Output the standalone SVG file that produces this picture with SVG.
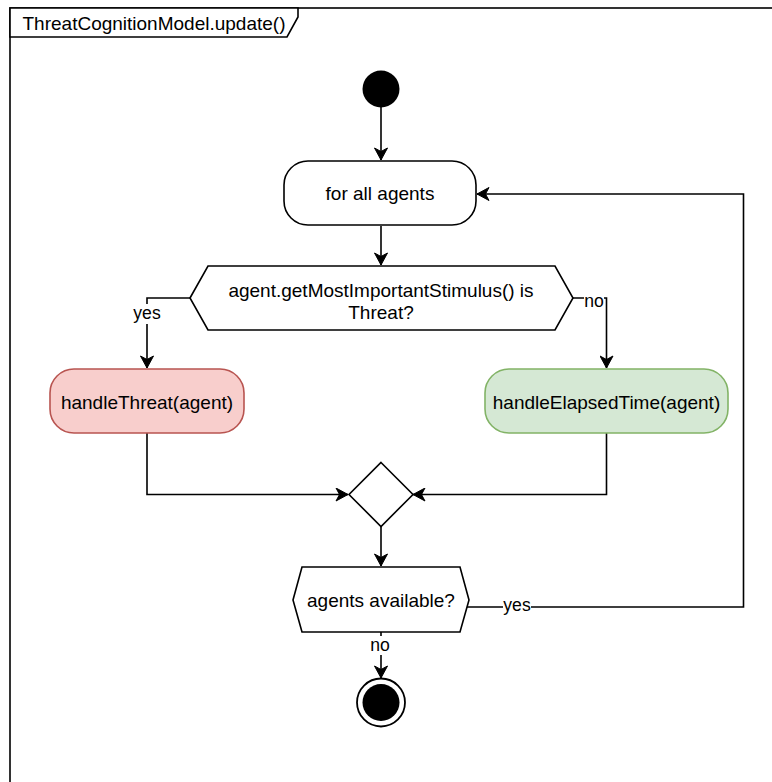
<svg xmlns="http://www.w3.org/2000/svg" width="772" height="782" viewBox="0 0 772 782">
  <style>
    .ln { fill: none; stroke: #000; stroke-width: 1.6; }
    .shape { fill: #fff; stroke: #000; stroke-width: 1.6; }
    .txt { font-family: "Liberation Sans", Arial, sans-serif; font-size: 19px; fill: #000; text-anchor: middle; }
    .lbl { font-family: "Liberation Sans", Arial, sans-serif; font-size: 17.6px; fill: #000; text-anchor: middle; }
    .lblbg { fill: #fff; stroke: none; }
  </style>
  <defs>
    <marker id="arrow" markerUnits="userSpaceOnUse" viewBox="-13 -7 14 14" refX="0" refY="0" markerWidth="14" markerHeight="14" orient="auto">
      <path d="M0,0 L-12,-6.5 L-8.5,0 L-12,6.5 Z" fill="#000" stroke="#000" stroke-width="1"/>
    </marker>
  </defs>

  <rect width="772" height="782" fill="#fff"/>

  <!-- UML frame with title tab -->
  <g id="frame">
    <rect x="10" y="8" width="800" height="800" class="ln"/>
    <path d="M10,8 H298 V17 L287,37 H10 Z" class="shape"/>
    <text x="154" y="30" class="txt">ThreatCognitionModel.update()</text>
  </g>

  <!-- connectors -->
  <g id="connectors">
    <path d="M381,107 V160" class="ln" marker-end="url(#arrow)"/>
    <path d="M381,226 V265" class="ln" marker-end="url(#arrow)"/>
    <path d="M190,298 H147 V368" class="ln" marker-end="url(#arrow)"/>
    <path d="M573,298 H606.5 V368" class="ln" marker-end="url(#arrow)"/>
    <path d="M147,433 V494.5 H348" class="ln" marker-end="url(#arrow)"/>
    <path d="M606.5,433 V494.5 H413" class="ln" marker-end="url(#arrow)"/>
    <path d="M381,527 V566" class="ln" marker-end="url(#arrow)"/>
    <path d="M467,607 H743.5 V194 H477" class="ln" marker-end="url(#arrow)"/>
    <path d="M381,632 V678" class="ln" marker-end="url(#arrow)"/>
    <!-- edge labels -->
    <rect x="133" y="304" width="28" height="20" class="lblbg"/>
    <text x="147" y="319" class="lbl">yes</text>
    <rect x="584" y="292" width="20" height="18" class="lblbg"/>
    <text x="594" y="307" class="lbl">no</text>
    <rect x="503" y="598" width="28" height="18" class="lblbg"/>
    <text x="517" y="611" class="lbl">yes</text>
    <rect x="370" y="636" width="20" height="19" class="lblbg"/>
    <text x="380" y="651" class="lbl">no</text>
  </g>

  <g id="start">
    <circle cx="381" cy="89" r="18.5" fill="#000"/>
  </g>

  <g id="forAllAgents">
    <rect x="284" y="161" width="192" height="64" rx="24" ry="24" class="shape"/>
    <text x="380" y="200" class="txt">for all agents</text>
  </g>

  <g id="isThreat">
    <polygon points="190,298 208,266 555,266 573,298 555,330 208,330" class="shape"/>
    <text x="381" y="297" class="txt">agent.getMostImportantStimulus() is</text>
    <text x="381" y="319" class="txt">Threat?</text>
  </g>

  <g id="handleThreat">
    <rect x="50" y="369" width="194" height="64" rx="24" ry="24" fill="#f8cecc" stroke="#b85450" stroke-width="1.6"/>
    <text x="147" y="409" class="txt">handleThreat(agent)</text>
  </g>

  <g id="handleElapsedTime">
    <rect x="485" y="369" width="243" height="64" rx="24" ry="24" fill="#d5e8d4" stroke="#82b366" stroke-width="1.6"/>
    <text x="606.5" y="409" class="txt">handleElapsedTime(agent)</text>
  </g>

  <g id="merge">
    <polygon points="381,462.5 413,494.5 381,526.5 349,494.5" class="shape"/>
  </g>

  <g id="agentsAvailable">
    <polygon points="293,600 302,567 460,567 469,600 460,632 302,632" class="shape"/>
    <text x="381" y="607" class="txt">agents available?</text>
  </g>

  <g id="end">
    <circle cx="381" cy="702.5" r="24" fill="#fff" stroke="#000" stroke-width="1.8"/>
    <circle cx="381" cy="702.5" r="18.5" fill="#000"/>
  </g>
</svg>
